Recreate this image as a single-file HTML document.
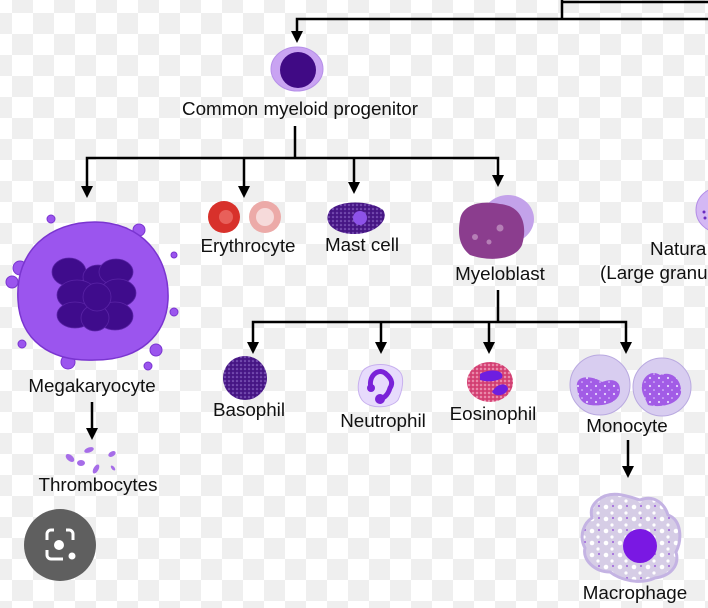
<!DOCTYPE html>
<html><head><meta charset="utf-8"><style>
html,body{margin:0;padding:0;}
body{width:708px;height:608px;overflow:hidden;
background-color:#fff;
background-image:conic-gradient(#efefef 0 25%,#fff 0 50%,#efefef 0 75%,#fff 0);
background-size:42px 42px;background-position:12px 13px;}
svg{position:absolute;left:0;top:0;}
text{font-family:"Liberation Sans",Arial,sans-serif;font-size:18.8px;fill:#111;}
</style></head><body>
<svg width="708" height="608" viewBox="0 0 708 608">
<defs>
<pattern id="dots" width="4" height="4" patternUnits="userSpaceOnUse"><rect width="4" height="4" fill="#4b1a8a"/><circle cx="1" cy="1" r="0.8" fill="#9a7bd0"/><circle cx="3" cy="3" r="0.5" fill="#2c0a5a"/></pattern>
<pattern id="eos" width="4" height="4" patternUnits="userSpaceOnUse"><rect width="4" height="4" fill="#d9487a"/><circle cx="1" cy="1" r="0.9" fill="#f3b8cc"/><circle cx="3" cy="3" r="0.6" fill="#b22a5c"/></pattern>
<pattern id="mono" width="9" height="8" patternUnits="userSpaceOnUse"><rect width="9" height="8" fill="#a25ce6"/><circle cx="2" cy="2" r="1.1" fill="#e6d6ff"/><circle cx="6" cy="6" r="0.8" fill="#e6d6ff"/></pattern>
<pattern id="mac" width="14" height="12" patternUnits="userSpaceOnUse"><rect width="14" height="12" fill="#d6cde6"/><circle cx="4" cy="3" r="2.3" fill="#fff"/><circle cx="10" cy="9" r="1.6" fill="#fff"/><circle cx="11" cy="2" r="0.9" fill="#8b3fd9"/></pattern>
</defs>

<g stroke="#000" stroke-width="2.5" fill="none">
<path d="M562,0 V19"/><path d="M562,2 H708"/>
<path d="M708,19 H297 V34"/>
<path d="M295,126 V158"/>
<path d="M87,190 V158 H498 V178"/>
<path d="M244,158 V190"/><path d="M354,158 V186"/>
<path d="M498,290 V322"/>
<path d="M253,346 V322 H626 V346"/>
<path d="M381,322 V346"/><path d="M489,322 V346"/>
<path d="M92,402 V432"/>
<path d="M628,440 V470"/>
</g>
<g fill="#000">
<path d="M291,31 h12 l-6,12z"/>
<path d="M81,186 h12 l-6,12z"/>
<path d="M238,186 h12 l-6,12z"/>
<path d="M348,182 h12 l-6,12z"/>
<path d="M492,175 h12 l-6,12z"/>
<path d="M247,342 h12 l-6,12z"/>
<path d="M375,342 h12 l-6,12z"/>
<path d="M483,342 h12 l-6,12z"/>
<path d="M620,342 h12 l-6,12z"/>
<path d="M86,428 h12 l-6,12z"/>
<path d="M622,466 h12 l-6,12z"/>
</g>

<!-- CMP -->
<ellipse cx="297" cy="69" rx="26" ry="22" fill="#c9a3f2" stroke="#b690e8"/>
<ellipse cx="298" cy="70" rx="18" ry="18" fill="#400a85"/>
<text x="300" y="115" text-anchor="middle">Common myeloid progenitor</text>

<!-- Megakaryocyte -->
<g fill="#9b55ee" stroke="#7a35d0">
<circle cx="51" cy="219" r="4"/><circle cx="139" cy="230" r="6"/><circle cx="174" cy="255" r="3"/>
<circle cx="20" cy="268" r="7"/><circle cx="12" cy="282" r="6"/><circle cx="174" cy="312" r="4"/>
<circle cx="22" cy="344" r="4"/><circle cx="68" cy="362" r="7"/><circle cx="156" cy="350" r="6"/><circle cx="148" cy="366" r="4"/>
</g>
<path d="M18,300 C15,250 50,222 95,222 C140,222 170,255 168,300 C166,335 140,360 95,360 C50,362 20,340 18,300z" fill="#9b55ee" stroke="#7a35d0" stroke-width="1.5"/>
<g fill="#3f0c8c" stroke="#5a24a6" stroke-width="0.8">
<ellipse cx="69" cy="272" rx="17" ry="14"/><ellipse cx="98" cy="277" rx="15" ry="12"/><ellipse cx="116" cy="272" rx="17" ry="13"/>
<ellipse cx="77" cy="295" rx="20" ry="15"/><ellipse cx="118" cy="293" rx="18" ry="14"/>
<ellipse cx="75" cy="315" rx="18" ry="13"/><ellipse cx="115" cy="316" rx="18" ry="14"/><ellipse cx="95" cy="318" rx="14" ry="13"/><ellipse cx="97" cy="297" rx="14" ry="14"/>
</g>
<text x="92" y="392" text-anchor="middle">Megakaryocyte</text>

<g fill="#a66de8">
<ellipse cx="70" cy="458" rx="5" ry="3" transform="rotate(40 70 458)"/>
<ellipse cx="89" cy="450" rx="5" ry="2.5" transform="rotate(-20 89 450)"/>
<ellipse cx="81" cy="463" rx="4" ry="3"/>
<ellipse cx="96" cy="469" rx="5" ry="2.5" transform="rotate(-60 96 469)"/>
<ellipse cx="112" cy="454" rx="4" ry="2.5" transform="rotate(-30 112 454)"/>
<ellipse cx="113" cy="468" rx="3" ry="1.5" transform="rotate(50 113 468)"/>
</g>
<text x="98" y="491" text-anchor="middle">Thrombocytes</text>

<circle cx="60" cy="545" r="36" fill="#5f5f5f"/>
<path d="M47,540 v-6 a4,4 0 0 1 4,-4 h3 M73,540 v-6 a4,4 0 0 0 -4,-4 h-3 M47,550 v5 a4,4 0 0 0 4,4 h12" stroke="#fff" stroke-width="3" fill="none"/>
<circle cx="59" cy="545" r="5" fill="#fff"/><circle cx="72" cy="556" r="3.5" fill="#fff"/>

<circle cx="224" cy="217" r="16" fill="#d8312b"/><circle cx="226" cy="217" r="7" fill="#e8605a"/>
<circle cx="265" cy="217" r="16" fill="#ecaaa8"/><circle cx="265" cy="217" r="9" fill="#f6dada"/>
<text x="248" y="252" text-anchor="middle">Erythrocyte</text>

<path d="M330,210 C340,200 370,200 383,210 C390,220 375,234 355,234 C333,234 322,222 330,210z" fill="url(#dots)"/>
<circle cx="360" cy="218" r="7" fill="#8d52e8"/>
<text x="362" y="251" text-anchor="middle">Mast cell</text>

<ellipse cx="508" cy="219" rx="26" ry="24" fill="#c3a2ea"/>
<path d="M460,220 C462,205 480,200 500,204 C522,206 528,225 522,245 C515,260 490,262 470,255 C458,245 458,232 460,220z" fill="#8b3d8e"/>
<circle cx="500" cy="228" r="3.5" fill="#b57fb6"/><circle cx="475" cy="237" r="3" fill="#b57fb6"/><circle cx="489" cy="242" r="2.5" fill="#b57fb6"/>
<text x="500" y="280" text-anchor="middle">Myeloblast</text>

<ellipse cx="718" cy="210" rx="22" ry="22" fill="#d4b8f4" stroke="#b48ee6"/>
<circle cx="704" cy="212" r="1.5" fill="#6a2bbf"/><circle cx="705" cy="218" r="1.5" fill="#6a2bbf"/>
<text x="650" y="255">Natura</text>
<text x="600" y="279">(Large granu</text>

<circle cx="245" cy="378" r="22" fill="url(#dots)"/>
<text x="249" y="416" text-anchor="middle">Basophil</text>

<path d="M362,372 C368,362 392,362 400,372 C405,378 402,392 398,400 C392,408 370,410 362,400 C356,392 358,380 362,372z" fill="#e7dbfc" stroke="#c7b0ee"/>
<path d="M371,388 C368,376 378,368 385,373 C390,377 394,382 390,388 C388,395 383,400 378,398" stroke="#7a22d8" stroke-width="5" fill="none"/>
<circle cx="371" cy="388" r="4" fill="#7a22d8"/><circle cx="380" cy="399" r="5" fill="#7a22d8"/>
<text x="383" y="427" text-anchor="middle">Neutrophil</text>

<ellipse cx="490" cy="382" rx="23" ry="20" fill="url(#eos)"/>
<path d="M480,374 C490,368 505,370 502,378 C495,382 487,382 480,380z" fill="#6e1ee0"/>
<path d="M492,392 C497,383 507,382 508,389 C506,395 497,398 492,392z" fill="#6e1ee0"/>
<text x="493" y="420" text-anchor="middle">Eosinophil</text>

<circle cx="600" cy="385" r="30" fill="#d8cdf0" stroke="#b9a9e0"/>
<path d="M577,387 C575,375 592,375 602,382 C612,378 620,380 620,390 C620,402 605,407 590,405 C580,403 578,396 577,387z" fill="url(#mono)"/>
<circle cx="662" cy="387" r="29" fill="#d8cdf0" stroke="#b9a9e0"/>
<path d="M643,394 C638,380 650,368 660,375 C672,370 682,380 681,393 C678,405 660,408 648,405z" fill="url(#mono)"/>
<text x="627" y="432" text-anchor="middle">Monocyte</text>

<path d="M598,500 C610,490 625,495 640,500 C655,494 665,505 668,515 C682,520 682,540 676,552 C680,566 670,576 655,578 C640,585 620,580 610,572 C595,572 582,560 585,548 C578,535 585,522 592,518 C590,510 592,505 598,500z" fill="url(#mac)" stroke="#c4b3e3" stroke-width="3"/>
<circle cx="640" cy="546" r="17" fill="#7a18e3"/>
<text x="635" y="599" text-anchor="middle">Macrophage</text>
</svg>
</body></html>
